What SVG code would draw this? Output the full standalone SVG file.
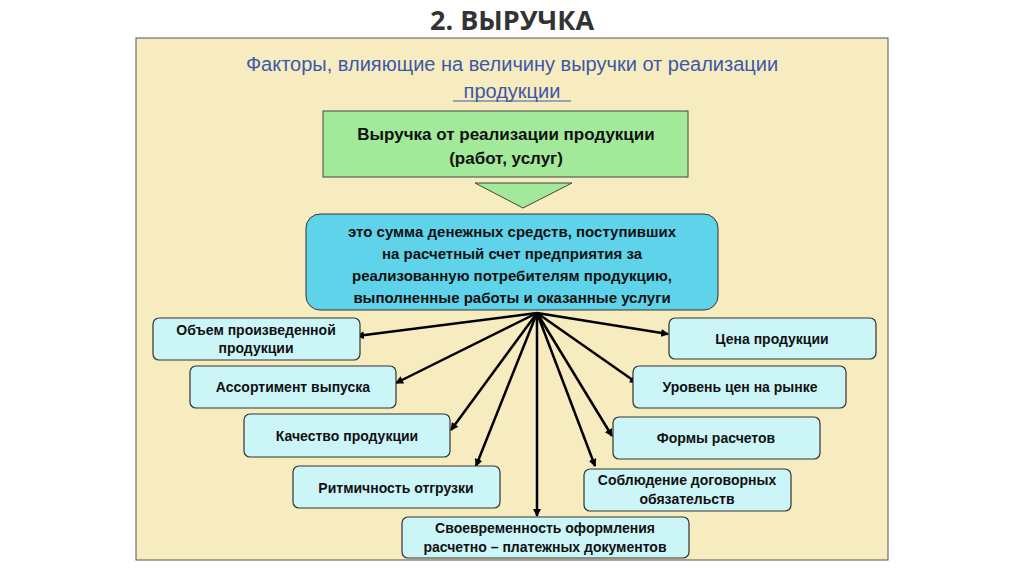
<svg xmlns="http://www.w3.org/2000/svg" width="1024" height="574" viewBox="0 0 1024 574">
<defs>
<marker id="ah" markerWidth="8" markerHeight="8" refX="7" refY="4" orient="auto" markerUnits="userSpaceOnUse"><path d="M0,0 L8,4 L0,8 Z" fill="#000"/></marker>
<style>
.f{fill:#ccf5f8;stroke:#333;stroke-width:1.2}
.t{font-family:"Liberation Sans",Arial,sans-serif;font-size:14px;font-weight:bold;fill:#111;text-anchor:middle}
.c{stroke:#000;stroke-width:2.5;fill:none;marker-end:url(#ah)}
</style>
</defs>
<rect width="1024" height="574" fill="#fff"/>
<text x="512" y="30" font-family="'Open Sans','Liberation Sans',sans-serif" font-size="27" font-weight="bold" fill="#333" text-anchor="middle">2. ВЫРУЧКА</text>
<rect x="136" y="38" width="752" height="522" fill="#f7ecc0" stroke="#555" stroke-width="1"/>
<text x="512" y="71" font-family="'Liberation Sans',sans-serif" font-size="20" fill="#3d58a8" text-anchor="middle">Факторы, влияющие на величину выручки от реализации</text>
<text x="512" y="98" font-family="'Liberation Sans',sans-serif" font-size="20" fill="#3d58a8" text-anchor="middle">продукции</text>
<line x1="453" y1="101" x2="571" y2="101" stroke="#3d58a8"/>
<g id="main"><rect x="323" y="111" width="365" height="66" fill="#a2e99a" stroke="#444"/>
<text class="t" x="506" y="140" style="font-size:17px">Выручка от реализации продукции</text>
<text class="t" x="506" y="164" style="font-size:17px">(работ, услуг)</text></g>
<g id="tri"><polygon points="475,183 572,183 523,208" fill="#a2e99a" stroke="#444"/></g>
<g id="def"><rect x="306" y="214" width="412" height="96" rx="14" fill="#5fd3ea" stroke="#333"/>
<text class="t" x="512" y="237" style="font-size:15px">это сумма денежных средств, поступивших</text>
<text class="t" x="512" y="259" style="font-size:15px">на расчетный счет предприятия за</text>
<text class="t" x="512" y="281" style="font-size:15px">реализованную потребителям продукцию,</text>
<text class="t" x="512" y="303" style="font-size:15px">выполненные работы и оказанные услуги</text></g>
<g id="connectors">
<line class="c" x1="537" y1="313" x2="357" y2="336"/>
<line class="c" x1="537" y1="313" x2="396" y2="383"/>
<line class="c" x1="537" y1="313" x2="451" y2="430"/>
<line class="c" x1="537" y1="313" x2="476" y2="466"/>
<line class="c" x1="537" y1="313" x2="537" y2="516"/>
<line class="c" x1="537" y1="313" x2="595" y2="466"/>
<line class="c" x1="537" y1="313" x2="612" y2="436"/>
<line class="c" x1="537" y1="313" x2="637" y2="383"/>
<line class="c" x1="537" y1="313" x2="668" y2="334"/>
</g>
<g id="n1"><rect class="f" x="153" y="318" width="207" height="42" rx="6"/><text class="t" x="256" y="335">Объем произведенной</text><text class="t" x="256" y="353">продукции</text></g>
<g id="n2"><rect class="f" x="190" y="366" width="206" height="42" rx="6"/><text class="t" x="293" y="392">Ассортимент выпуска</text></g>
<g id="n3"><rect class="f" x="244" y="414" width="206" height="43" rx="6"/><text class="t" x="347" y="441">Качество продукции</text></g>
<g id="n4"><rect class="f" x="293" y="466" width="207" height="42" rx="6"/><text class="t" x="396" y="493">Ритмичность отгрузки</text></g>
<g id="n5"><rect class="f" x="402" y="517" width="287" height="41" rx="6"/><text class="t" x="545" y="533">Своевременность оформления</text><text class="t" x="545" y="552">расчетно – платежных документов</text></g>
<g id="n6"><rect class="f" x="584" y="469" width="207" height="42" rx="6"/><text class="t" x="687" y="485">Соблюдение договорных</text><text class="t" x="687" y="504">обязательств</text></g>
<g id="n7"><rect class="f" x="613" y="417" width="207" height="42" rx="6"/><text class="t" x="716" y="443">Формы расчетов</text></g>
<g id="n8"><rect class="f" x="633" y="366" width="213" height="42" rx="6"/><text class="t" x="740" y="392">Уровень цен на рынке</text></g>
<g id="n9"><rect class="f" x="669" y="318" width="207" height="41" rx="6"/><text class="t" x="772" y="344">Цена продукции</text></g>
</svg>
